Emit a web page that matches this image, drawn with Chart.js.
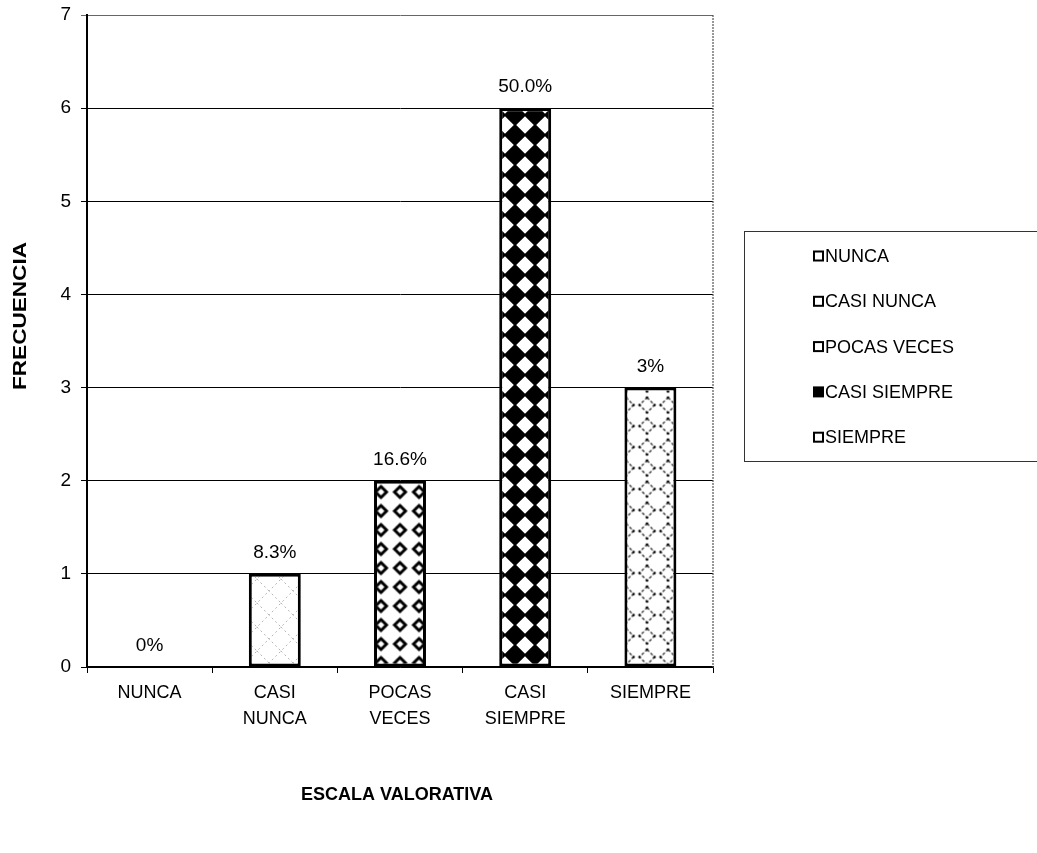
<!DOCTYPE html>
<html>
<head>
<meta charset="utf-8">
<script src="https://cdn.jsdelivr.net/npm/chart.js@4.4.0/dist/chart.umd.min.js"></script>
<style>
  html, body { margin: 0; padding: 0; background: #fff; }
</style>
</head>
<body>
<canvas id="frecuenciaChart" width="1037" height="853"></canvas>
<script>
// datos de la escala valorativa
const categorias = ['NUNCA', 'CASI NUNCA', 'POCAS VECES', 'CASI SIEMPRE', 'SIEMPRE'];
const etiquetasEje = [['NUNCA'], ['CASI', 'NUNCA'], ['POCAS', 'VECES'], ['CASI', 'SIEMPRE'], ['SIEMPRE']];
const frecuencias = [0, 1, 2, 6, 3];
const porcentajes = ['0%', '8.3%', '16.6%', '50.0%', '3%'];
const ejeYMax = 7;
const tituloY = 'FRECUENCIA';
const tituloX = 'ESCALA VALORATIVA';

const FUENTE = '"Liberation Sans", Arial, sans-serif';

// tramas tipo Excel para cada barra
function rombo(g, cx, cy, r) {
    g.beginPath();
    g.moveTo(cx, cy - r);
    g.lineTo(cx + r, cy);
    g.lineTo(cx, cy + r);
    g.lineTo(cx - r, cy);
    g.closePath();
}

function trama(size, dx, dy, fondo, dibujar) {
    const c = document.createElement('canvas');
    c.width = size; c.height = size;
    const g = c.getContext('2d');
    g.fillStyle = fondo;
    g.fillRect(0, 0, size, size);
    dibujar(g, size);
    const p = document.createElement('canvas').getContext('2d').createPattern(c, 'repeat');
    p.setTransform(new DOMMatrix().translate(dx, dy));
    return p;
}

const tramas = [
    '#fff',
    // rombos grises muy tenues
    trama(24, 5, 3, '#fff', function(g, s) {
        g.strokeStyle = '#b5b5b5';
        g.lineWidth = 1;
        g.setLineDash([2, 3]);
        rombo(g, s / 2, s / 2, s / 2);
        g.stroke();
    }),
    // rombos blancos con contorno grueso
    trama(19, 10.5, 7.5, '#fff', function(g, s) {
        g.strokeStyle = '#000';
        g.lineWidth = 3;
        g.lineJoin = 'miter';
        rombo(g, s / 2, s / 2, 5.5);
        g.stroke();
    }),
    // damero diagonal negro y blanco
    trama(20, 5, 5, '#000', function(g, s) {
        g.fillStyle = '#fff';
        [[0, 0], [s, 0], [0, s], [s, s]].forEach(function(pt) {
            rombo(g, pt[0], pt[1], 8.8);
            g.fill();
        });
    }),
    // rombos punteados
    trama(21, 6.5, 16.5, '#fff', function(g, s) {
        g.strokeStyle = '#222';
        g.lineWidth = 1.3;
        g.setLineDash([3, 2]);
        rombo(g, s / 2, s / 2, 7.5);
        g.stroke();
        g.setLineDash([]);
        g.fillStyle = '#000';
        [[s / 2, s / 2 - 7.5], [s / 2 + 7.5, s / 2], [s / 2, s / 2 + 7.5], [s / 2 - 7.5, s / 2]].forEach(function(pt) {
            g.beginPath(); g.arc(pt[0], pt[1], 1.3, 0, Math.PI * 2); g.fill();
        });
    })
];
const rellenoLeyenda = ['#fff', '#fff', '#fff', '#000', '#fff'];

const extras = {
    id: 'extras',
    afterDatasetsDraw: function(chart) {
        const ctx = chart.ctx;
        const area = chart.chartArea;
        ctx.save();
        // borde derecho punteado del área de trazado
        ctx.strokeStyle = '#555';
        ctx.lineWidth = 1.2;
        ctx.setLineDash([2, 1]);
        ctx.beginPath();
        ctx.moveTo(area.right, area.top);
        ctx.lineTo(area.right, area.bottom);
        ctx.stroke();
        ctx.setLineDash([]);

        // porcentajes sobre las barras
        ctx.fillStyle = '#000';
        ctx.font = '19px ' + FUENTE;
        ctx.textAlign = 'center';
        ctx.textBaseline = 'alphabetic';
        chart.getDatasetMeta(0).data.forEach(function(bar, i) {
            ctx.fillText(porcentajes[i], bar.x, bar.y - 16);
        });
        ctx.restore();
    },
    afterDraw: function(chart) {
        const ctx = chart.ctx;
        const area = chart.chartArea;
        ctx.save();
        ctx.fillStyle = '#000';
        ctx.textAlign = 'center';
        ctx.textBaseline = 'middle';

        // título del eje Y
        ctx.save();
        ctx.translate(21, 316);
        ctx.rotate(-Math.PI / 2);
        ctx.font = 'bold 18px ' + FUENTE;
        const w = ctx.measureText(tituloY).width;
        ctx.scale(148 / w, 1);
        ctx.fillText(tituloY, 0, 0);
        ctx.restore();

        // título del eje X
        ctx.font = 'bold 18px ' + FUENTE;
        ctx.fillText(tituloX, (area.left + area.right) / 2 - 3, 795);

        // leyenda
        const lx = 744, ly = 231, lw = 300, lh = 230;
        ctx.strokeStyle = '#333';
        ctx.lineWidth = 1;
        ctx.strokeRect(lx + 0.5, ly + 0.5, lw, lh);
        ctx.font = '18px ' + FUENTE;
        ctx.textAlign = 'left';
        categorias.forEach(function(cat, i) {
            const y = 256 + i * 45.3;
            ctx.fillStyle = rellenoLeyenda[i];
            ctx.fillRect(814, y - 4.5, 9, 9);
            ctx.strokeStyle = '#000';
            ctx.lineWidth = 2;
            ctx.strokeRect(814, y - 4.5, 9, 9);
            ctx.fillStyle = '#000';
            ctx.fillText(cat, 825, y + 1);
        });
        ctx.restore();
    }
};

const ctx = document.getElementById('frecuenciaChart').getContext('2d');
const frecuenciaChart = new Chart(ctx, {
    type: 'bar',
    data: {
        labels: etiquetasEje,
        datasets: [{
            label: 'Frecuencia',
            data: frecuencias,
            backgroundColor: tramas,
            borderColor: '#000',
            borderWidth: function(c) { return frecuencias[c.dataIndex] ? 3 : 0; },
            borderSkipped: false,
            barPercentage: 0.415,
            categoryPercentage: 1
        }]
    },
    options: {
        responsive: false,
        animation: false,
        layout: {
            padding: { top: 15, right: 324, left: 0, bottom: 0 }
        },
        scales: {
            x: {
                afterFit: function(scale) { scale.height = 186; },
                grid: {
                    offset: true,
                    drawOnChartArea: false,
                    color: '#000',
                    tickLength: 6
                },
                border: { color: '#000', width: 1.5 },
                ticks: {
                    color: '#000',
                    padding: 7,
                    maxRotation: 0,
                    font: { family: FUENTE, size: 18, lineHeight: 1.45 }
                }
            },
            y: {
                min: 0,
                max: ejeYMax,
                afterFit: function(scale) {
                    scale.width = 87;
                    scale.paddingTop = 0;
                    scale.paddingBottom = 0;
                },
                grid: {
                    color: function(c) { return c.tick && c.tick.value === ejeYMax ? '#666' : '#000'; },
                    lineWidth: 1,
                    tickLength: 6
                },
                border: { color: '#000', width: 2 },
                ticks: {
                    stepSize: 1,
                    color: '#000',
                    padding: 10,
                    font: { family: FUENTE, size: 19 }
                }
            }
        },
        plugins: {
            legend: { display: false },
            tooltip: { enabled: false }
        }
    },
    plugins: [extras]
});
</script>
</body>
</html>
